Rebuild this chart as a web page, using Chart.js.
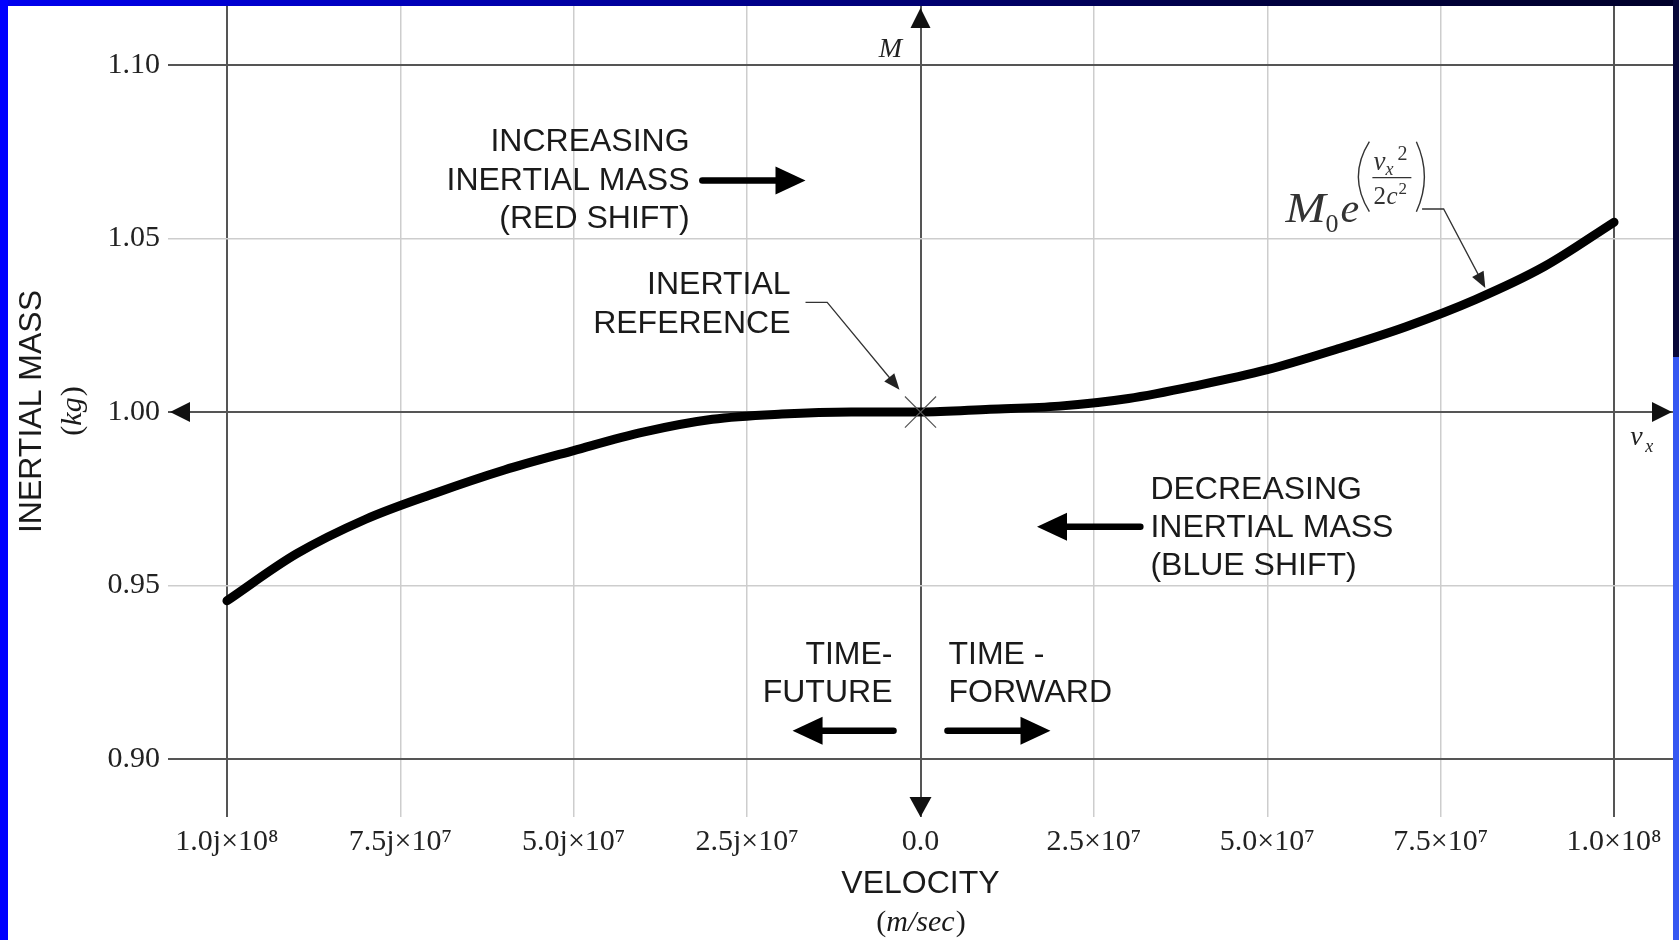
<!DOCTYPE html>
<html>
<head>
<meta charset="utf-8">
<script src="https://cdn.jsdelivr.net/npm/chart.js@4.4.1/dist/chart.umd.min.js"></script>
<style>
  html,body{margin:0;padding:0;background:#fff;}
  body{width:1679px;height:940px;position:relative;overflow:hidden;}
  canvas{position:absolute;left:0;top:0;}
  .edge{position:absolute;z-index:2;}
  #topbar{left:0;top:0;width:1679px;height:6px;background:linear-gradient(to right,#0000f0,#00008a 45%,#000040 75%,#00002a);}
  #leftbar{left:0;top:0;width:8px;height:940px;background:#0000ff;}
  #rightbar{right:0;top:0;width:6px;height:940px;background:linear-gradient(to bottom,#08083a 0,#08083a 357px,#3558f2 357px,#3558f2 100%);}
</style>
</head>
<body>
<canvas id="chart" width="1679" height="940"></canvas>
<div class="edge" id="topbar"></div>
<div class="edge" id="leftbar"></div>
<div class="edge" id="rightbar"></div>
<script>
// velocity in units of 10^7 m/s (negative side = imaginary j velocities)
const velocity = [-10, -9, -8, -7, -6, -5, -4, -3, -2, -1, 0, 1, 2, 3, 4, 5, 6, 7, 8, 9, 10];
const mass     = [0.9456, 0.9591, 0.9691, 0.9766, 0.9833, 0.9889, 0.9942, 0.9979, 0.9994, 1.0000, 1.0000,
                  1.0008, 1.0017, 1.0039, 1.0077, 1.0122, 1.0181, 1.0246, 1.0324, 1.0420, 1.0547];
const refPoint = [[0, 1.0]];

const xTicks = [-10, -7.5, -5, -2.5, 0, 2.5, 5, 7.5, 10];
const xTickLabels = ['1.0j×10⁸', '7.5j×10⁷', '5.0j×10⁷', '2.5j×10⁷', '0.0', '2.5×10⁷', '5.0×10⁷', '7.5×10⁷', '1.0×10⁸'];
const yTicks = [0.90, 0.95, 1.00, 1.05, 1.10];
const yTickLabels = ['0.90', '0.95', '1.00', '1.05', '1.10'];

// text notes, anchored in data units
const notes = [
  {at:[-3.33, 1.0785], lines:['INCREASING','INERTIAL MASS','(RED SHIFT)'], align:'right'},
  {at:[-1.874, 1.0373], lines:['INERTIAL','REFERENCE'], align:'right'},
  {at:[3.315, 0.97847], lines:['DECREASING','INERTIAL MASS','(BLUE SHIFT)'], align:'left'},
  {at:[-0.404, 0.93092], lines:['TIME-','FUTURE'], align:'right'},
  {at:[0.404, 0.93092], lines:['TIME -','FORWARD'], align:'left'},
];
const bigArrows = [
  {from:[-3.146, 1.0667], to:[-1.658, 1.0667]},
  {from:[3.17, 0.96695], to:[1.68, 0.96695]},
  {from:[-0.389, 0.90816], to:[-1.845, 0.90816]},
  {from:[0.389, 0.90816], to:[1.874, 0.90816]},
];
const leaders = [
  [[-1.658, 1.03158], [-1.345, 1.03158], [-0.303, 1.00643]],
  [[7.232, 1.0585], [7.543, 1.0585], [8.144, 1.03573]],
];
const formulaAt = [5.261, 1.05484];
const mLabelAt = [-0.4324, 1.1024];
const vxLabelAt = [10.234, 0.98971];

const SANS = '"Liberation Sans", Arial, sans-serif';
const SERIF = '"Liberation Serif", "Times New Roman", serif';
const INK = '#1a1a1a';

function head(ctx, x0, y0, x1, y1, len, half){
  const a = Math.atan2(y1-y0, x1-x0), c = Math.cos(a), s = Math.sin(a);
  ctx.beginPath();
  ctx.moveTo(x1, y1);
  ctx.lineTo(x1 - len*c + half*s, y1 - len*s - half*c);
  ctx.lineTo(x1 - len*c - half*s, y1 - len*s + half*c);
  ctx.closePath();
  ctx.fill();
}

// "(" upright, body italic, ")" upright, centred on x
function parenText(ctx, body, x, y, size){
  const up = size + 'px ' + SERIF, it = 'italic ' + size + 'px ' + SERIF;
  ctx.font = up; const wp = ctx.measureText('(').width, wq = ctx.measureText(')').width;
  ctx.font = it; const wb = ctx.measureText(body).width;
  let cx = x - (wp + wb + wq) / 2;
  ctx.textAlign = 'left';
  ctx.font = up; ctx.fillText('(', cx, y); cx += wp;
  ctx.font = it; ctx.fillText(body, cx, y); cx += wb + 1;
  ctx.font = up; ctx.fillText(')', cx, y);
}

const annotate = {
  id:'annotate',
  afterDraw(chart){
    const ctx = chart.ctx, X = chart.scales.x, Y = chart.scales.y, ca = chart.chartArea;
    const P = p => [X.getPixelForValue(p[0]), Y.getPixelForValue(p[1])];
    ctx.save();

    // axis arrowheads
    const x0 = X.getPixelForValue(0), y1 = Y.getPixelForValue(1);
    ctx.fillStyle = '#111';
    head(ctx, x0, ca.top+40, x0, ca.top+2, 20, 10);
    head(ctx, x0, ca.bottom-40, x0, ca.bottom, 20, 11);
    head(ctx, ca.left+40, y1, ca.left+2, y1, 20, 10);
    head(ctx, ca.right-40, y1, ca.right-1, y1, 20, 10);

    // text notes
    ctx.fillStyle = INK;
    ctx.font = '32px ' + SANS;
    ctx.textBaseline = 'middle';
    notes.forEach(n => {
      const [x, y] = P(n.at);
      ctx.textAlign = n.align;
      n.lines.forEach((t, i) => ctx.fillText(t, x, y + 3 + i*38.3));
    });

    // thick arrows
    ctx.strokeStyle = '#000'; ctx.fillStyle = '#000';
    ctx.lineWidth = 6.5; ctx.lineCap = 'round';
    bigArrows.forEach(a => {
      const [fx, fy] = P(a.from), [tx, ty] = P(a.to);
      const d = Math.sign(tx - fx);
      ctx.beginPath(); ctx.moveTo(fx, fy); ctx.lineTo(tx - d*24, ty); ctx.stroke();
      head(ctx, fx, fy, tx, ty, 30, 14);
    });

    // thin leader lines
    ctx.strokeStyle = '#333'; ctx.fillStyle = '#222';
    ctx.lineWidth = 1.3; ctx.lineCap = 'butt';
    leaders.forEach(l => {
      const pts = l.map(P);
      const [ax, ay] = pts[pts.length-2], [bx, by] = pts[pts.length-1];
      const len = Math.hypot(bx-ax, by-ay);
      ctx.beginPath();
      ctx.moveTo(pts[0][0], pts[0][1]);
      for (let i = 1; i < pts.length-1; i++) ctx.lineTo(pts[i][0], pts[i][1]);
      ctx.lineTo(bx - (bx-ax)/len*12, by - (by-ay)/len*12);
      ctx.stroke();
      head(ctx, ax, ay, bx, by, 16, 6.5);
    });

    // axis symbols
    ctx.fillStyle = '#222';
    ctx.textBaseline = 'alphabetic';
    let [mx, my] = P(mLabelAt);
    ctx.textAlign = 'center';
    ctx.font = 'italic 28px ' + SERIF;
    ctx.fillText('M', mx, my);
    let [vx, vy] = P(vxLabelAt);
    ctx.textAlign = 'left';
    ctx.fillText('v', vx, vy - 3);
    ctx.font = 'italic 18px ' + SERIF;
    ctx.fillText('x', vx + 15, vy + 4);

    // formula M0 e^(vx^2 / 2c^2)
    const [fx, fy] = P(formulaAt);
    ctx.fillStyle = '#333';
    ctx.save(); ctx.translate(fx, fy); ctx.scale(1.15, 1);
    ctx.font = 'italic 42px ' + SERIF; ctx.fillText('M', 0, 0);
    ctx.restore();
    ctx.font = '26px ' + SERIF; ctx.fillText('0', fx + 40, fy + 10);
    ctx.font = 'italic 42px ' + SERIF; ctx.fillText('e', fx + 55, fy);
    ctx.strokeStyle = '#333'; ctx.lineWidth = 1.4;
    ctx.beginPath(); ctx.moveTo(fx + 84, fy - 80); ctx.quadraticCurveTo(fx + 62, fy - 45, fx + 84, fy - 10); ctx.stroke();
    ctx.beginPath(); ctx.moveTo(fx + 131, fy - 80); ctx.quadraticCurveTo(fx + 147, fy - 45, fx + 131, fy - 10); ctx.stroke();
    ctx.font = 'italic 27px ' + SERIF; ctx.fillText('v', fx + 88, fy - 52);
    ctx.font = 'italic 18px ' + SERIF; ctx.fillText('x', fx + 100, fy - 47);
    ctx.font = '20px ' + SERIF; ctx.fillText('2', fx + 112, fy - 62);
    ctx.lineWidth = 1.2;
    ctx.beginPath(); ctx.moveTo(fx + 87, fy - 44); ctx.lineTo(fx + 126, fy - 44); ctx.stroke();
    ctx.font = '25px ' + SERIF; ctx.fillText('2', fx + 88, fy - 18);
    ctx.font = 'italic 25px ' + SERIF; ctx.fillText('c', fx + 101, fy - 18);
    ctx.font = '17px ' + SERIF; ctx.fillText('2', fx + 113, fy - 28);

    // axis titles
    ctx.fillStyle = INK;
    ctx.textAlign = 'center'; ctx.textBaseline = 'middle';
    const midY = (ca.top + ca.bottom) / 2;
    ctx.save();
    ctx.translate(ca.left - 136, midY); ctx.rotate(-Math.PI/2);
    ctx.font = '32px ' + SANS; ctx.fillText('INERTIAL MASS', 0, 0);
    ctx.restore();
    ctx.save();
    ctx.translate(ca.left - 95, midY); ctx.rotate(-Math.PI/2);
    parenText(ctx, 'kg', 0, 0, 30);
    ctx.restore();
    ctx.textAlign = 'center';
    ctx.font = '32px ' + SANS; ctx.fillText('VELOCITY', x0, ca.bottom + 67);
    parenText(ctx, 'm/sec', x0, ca.bottom + 106, 30);

    ctx.restore();
  }
};

const near = (a, b) => Math.abs(a - b) < 1e-6;
const isMajorY = v => near(v, 0.9) || near(v, 1) || near(v, 1.1);
const isMajorX = v => Math.abs(v) === 10 || v === 0;

new Chart(document.getElementById('chart'), {
  type:'line',
  data:{ datasets:[
    { label:'M', data: velocity.map((v, i) => ({x:v, y:mass[i]})),
      borderColor:'#000', borderWidth:9, pointRadius:0, cubicInterpolationMode:'monotone',
      borderCapStyle:'round', borderJoinStyle:'round', order:1 },
    { label:'ref', type:'scatter', data: refPoint.map(p => ({x:p[0], y:p[1]})),
      pointStyle:'crossRot', pointRadius:22, pointBorderColor:'#555', pointBorderWidth:1.2,
      pointBackgroundColor:'rgba(0,0,0,0)', order:0 },
  ]},
  options:{
    responsive:false, animation:false,
    layout:{ autoPadding:false, padding:{ top:6, right:6, left:0, bottom:0 } },
    plugins:{ legend:{display:false}, tooltip:{enabled:false} },
    scales:{
      x:{ type:'linear', min:-10.85, max:10.85,
        border:{display:false},
        afterBuildTicks: s => { s.ticks = xTicks.map(v => ({value:v})); },
        afterFit: s => { s.height = 123; s.paddingLeft = 0; s.paddingRight = 0; },
        grid:{ drawTicks:false,
          color: c => isMajorX(c.tick.value) ? '#555' : '#cdcdcd',
          lineWidth: c => isMajorX(c.tick.value) ? 2 : 1.5 },
        ticks:{ padding:7, autoSkip:false, maxRotation:0, color:'#222',
          font:{ family:SERIF, size:30 },
          callback: v => xTickLabels[xTicks.indexOf(v)] }
      },
      y:{ type:'linear', min:0.8833, max:1.1170,
        border:{display:false},
        afterBuildTicks: s => { s.ticks = yTicks.map(v => ({value:v})); },
        afterFit: s => { s.width = 168; s.paddingTop = 0; s.paddingBottom = 0; },
        grid:{ drawTicks:false,
          color: c => isMajorY(c.tick.value) ? '#555' : '#cdcdcd',
          lineWidth: c => isMajorY(c.tick.value) ? 2 : 1.5 },
        ticks:{ padding:8, color:'#222', font:{ family:SERIF, size:30 },
          callback: v => yTickLabels[yTicks.findIndex(t => near(t, v))] }
      }
    }
  },
  plugins:[annotate]
});
</script>
</body>
</html>
